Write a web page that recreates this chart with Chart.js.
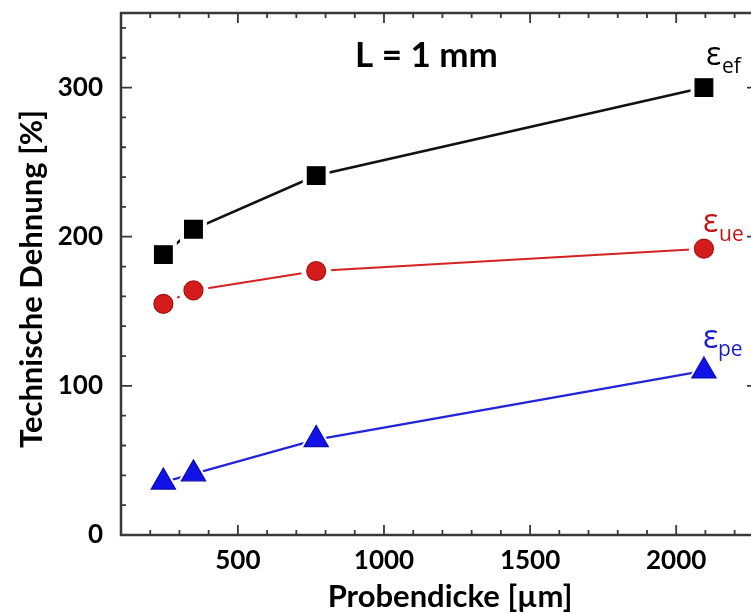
<!DOCTYPE html>
<html>
<head>
<meta charset="utf-8">
<script src="https://cdn.jsdelivr.net/npm/chart.js@4"></script>
<style>
    html, body { margin: 0; padding: 0; background: #fff; overflow: hidden; }
    #wrap { width: 770px; height: 614px; }
</style>
</head>
<body>
<div id="wrap"><canvas id="chart" width="770" height="614"></canvas></div>
<script>
// Sample thickness in µm
const thickness = [245, 348, 768, 2095];
// Strain values in %
const strainEf = [188, 205, 241, 300];
const strainUe = [155, 164, 177, 192];
const strainPe = [35.5, 41, 64, 110];

const xTickValues = [500, 1000, 1500, 2000];
const yTickValues = [0, 100, 200, 300];

const seriesLabels = [
    { main: 'ε', sub: 'ef', color: '#000000' },
    { main: 'ε', sub: 'ue', color: '#c41414' },
    { main: 'ε', sub: 'pe', color: '#1c1cc8' }
];

function points(values) {
    return thickness.map((x, i) => ({ x: x, y: values[i] }));
}

// Line with white "halo" points so the line stops short of each marker
function lineSet(values, color, width, style, radius) {
    return {
        data: points(values),
        showLine: true,
        borderColor: color,
        borderWidth: width,
        pointStyle: style,
        pointRadius: radius,
        pointBackgroundColor: '#ffffff',
        pointBorderColor: '#ffffff',
        pointBorderWidth: 0,
        tension: 0,
        order: 2
    };
}

function markerSet(values, fill, border, style, radius) {
    return {
        data: points(values),
        showLine: false,
        pointStyle: style,
        pointRadius: radius,
        pointBackgroundColor: fill,
        pointBorderColor: border,
        pointBorderWidth: 1.2,
        order: 0
    };
}

function noPadding(scale) {
    scale.paddingTop = 0;
    scale.paddingBottom = 0;
    scale.paddingLeft = 0;
    scale.paddingRight = 0;
}

const framePlugin = {
    id: 'frame',
    afterDraw(chart) {
        const ctx = chart.ctx;
        const a = chart.chartArea;
        const xs = chart.scales.x;
        const ys = chart.scales.y;
        ctx.save();

        // axis frame
        ctx.strokeStyle = '#383838';
        ctx.lineWidth = 2.5;
        ctx.strokeRect(a.left, a.top, a.right - a.left, a.bottom - a.top);

        // inward ticks
        ctx.lineWidth = 1.8;
        ctx.beginPath();
        for (let v = 200; v <= 2200; v += 100) {
            const px = xs.getPixelForValue(v);
            const len = v % 500 === 0 ? 10 : 5;
            ctx.moveTo(px, a.bottom);
            ctx.lineTo(px, a.bottom - len);
            ctx.moveTo(px, a.top);
            ctx.lineTo(px, a.top + len);
        }
        for (let v = 20; v <= 340; v += 20) {
            const py = ys.getPixelForValue(v);
            const len = v % 100 === 0 ? 11 : 5;
            ctx.moveTo(a.left, py);
            ctx.lineTo(a.left + len, py);
            ctx.moveTo(a.right, py);
            ctx.lineTo(a.right - len, py);
        }
        ctx.stroke();

        // axis titles
        ctx.fillStyle = '#000';
        ctx.font = 'bold 31px Lato';
        ctx.textAlign = 'center';
        ctx.textBaseline = 'alphabetic';
        ctx.fillText('Probendicke [µm]', 450, 607);

        ctx.save();
        ctx.translate(42, 279);
        ctx.rotate(-Math.PI / 2);
        ctx.fillText('Technische Dehnung [%]', 0, 0);
        ctx.restore();

        // annotation
        ctx.textAlign = 'left';
        ctx.font = 'bold 35px Lato';
        ctx.fillText('L = 1 mm', 355, 67);

        // series labels with subscripts
        const labelPos = [
            { x: 706, y: 65, sx: 722, sy: 73 },
            { x: 703, y: 232, sx: 719, sy: 241 },
            { x: 703, y: 348, sx: 718, sy: 356 }
        ];
        seriesLabels.forEach((s, i) => {
            const p = labelPos[i];
            ctx.fillStyle = s.color;
            ctx.font = '32px "Open Sans"';
            ctx.fillText(s.main, p.x, p.y);
            ctx.font = '21px "Open Sans"';
            ctx.fillText(s.sub, p.sx, p.sy);
        });

        ctx.restore();
    }
};

new Chart(document.getElementById('chart'), {
    type: 'scatter',
    data: {
        datasets: [
            lineSet(strainEf, '#111111', 2.6, 'rect', 19),
            lineSet(strainUe, '#d42222', 2, 'circle', 15),
            lineSet(strainPe, '#2424d8', 2.4, 'triangle', 19),
            markerSet(strainEf, '#000000', '#000000', 'rect', 12.5),
            markerSet(strainUe, '#d41c1c', '#a81010', 'circle', 9.5),
            markerSet(strainPe, '#1212e6', '#0c0cb0', 'triangle', 14)
        ]
    },
    options: {
        responsive: false,
        animation: false,
        devicePixelRatio: 1,
        layout: {
            autoPadding: false,
            padding: { top: 13, right: 12, bottom: 0, left: 0 }
        },
        plugins: {
            legend: { display: false },
            tooltip: { enabled: false }
        },
        scales: {
            x: {
                type: 'linear',
                min: 100,
                max: 2280,
                afterBuildTicks: (scale) => {
                    scale.ticks = xTickValues.map(v => ({ value: v }));
                },
                afterFit: (scale) => {
                    scale.height = 79;
                    noPadding(scale);
                },
                grid: { display: false },
                border: { display: false },
                ticks: {
                    color: '#000',
                    font: { family: 'Lato', size: 26, weight: 'bold' },
                    padding: 2,
                    maxRotation: 0,
                    callback: (v) => String(v)
                }
            },
            y: {
                min: 0,
                max: 350,
                afterBuildTicks: (scale) => {
                    scale.ticks = yTickValues.map(v => ({ value: v }));
                },
                afterFit: (scale) => {
                    scale.width = 121;
                    noPadding(scale);
                },
                grid: { display: false },
                border: { display: false },
                ticks: {
                    color: '#000',
                    font: { family: 'Lato', size: 26, weight: 'bold' },
                    padding: 10,
                    callback: (v) => String(v)
                }
            }
        }
    },
    plugins: [framePlugin]
});
</script>
</body>
</html>
